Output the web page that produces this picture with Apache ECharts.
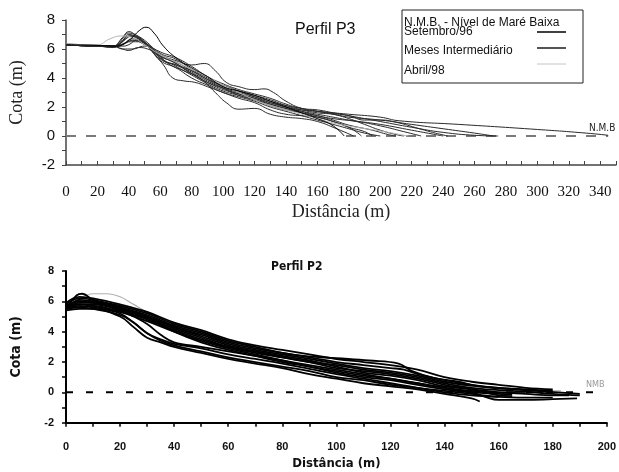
<!DOCTYPE html>
<html>
<head>
<meta charset="utf-8">
<script src="https://cdn.jsdelivr.net/npm/echarts@6/dist/echarts.min.js"></script>
<style>html,body{margin:0;padding:0;background:#fff}#c{width:619px;height:472px}</style>
</head>
<body>
<div id="c"></div>
<script>
// ---------- Perfil P3 (top) ----------
const p3_xTicks = [0,20,40,60,80,100,120,140,160,180,200,220,240,260,280,300,320,340];
const p3_yTicks = [-2,0,2,4,6,8];
const p3_setembro96 = [[0,6.3],[20,6.25],[32,6.2],[40,6.6],[47,7.3],[51,7.5],[56,7.1],[62,6.2],[70,5.4],[80,4.7],[90,4.1],[100,3.4],[110,3.1],[120,2.8],[130,2.4],[140,2.0],[150,1.6],[160,1.2],[170,0.7],[177,0]];
const p3_m1 = [[0,6.3],[20,6.2],[30,6.2],[38,6.7],[42,6.9],[48,6.6],[55,5.8],[62,4.9],[68,4.0],[75,3.8],[82,3.7],[90,3.4],[100,3.0],[110,2.6],[120,2.3],[130,1.8],[140,1.5],[150,1.4],[160,1.3],[170,1.0],[180,0.6],[188,0]];
const p3_m2 = [[0,6.3],[20,6.2],[30,6.15],[38,6.4],[42,6.6],[50,6.3],[60,5.6],[70,5.2],[80,4.9],[88,5.0],[95,4.5],[102,3.7],[110,3.4],[120,3.2],[126,3.25],[132,3.0],[140,2.4],[150,1.9],[160,1.7],[170,1.5],[180,1.2],[190,0.8],[200,0.4],[210,0.1],[215,0]];
const p3_m3 = [[0,6.3],[20,6.2],[30,6.2],[36,6.0],[42,6.0],[50,6.2],[58,5.7],[65,5.0],[75,4.5],[85,4.0],[95,3.0],[102,2.3],[110,1.85],[120,1.9],[130,1.5],[140,1.3],[150,1.2],[160,1.0],[170,0.6],[183,0]];
const p3_m4 = [[0,6.35],[20,6.25],[30,6.2],[35,6.6],[40,7.1],[45,6.9],[50,6.5],[60,5.6],[70,5.0],[80,4.4],[90,3.8],[100,3.3],[110,2.9],[120,2.6],[130,2.2],[140,1.9],[150,1.7],[160,1.5],[170,1.3],[180,1.1],[200,0.8],[220,0.4],[240,0]];
const p3_m5 = [[0,6.3],[20,6.2],[30,6.1],[35,6.4],[40,7.0],[45,6.8],[50,6.4],[60,5.4],[70,4.8],[80,4.2],[90,3.6],[100,3.1],[110,2.8],[120,2.5],[130,2.1],[140,1.8],[150,1.6],[160,1.3],[170,1.0],[180,0.6],[190,0.3],[195,0]];
const p3_m6 = [[0,6.3],[20,6.2],[30,6.2],[36,6.5],[41,6.9],[46,6.8],[52,6.3],[60,5.8],[70,5.4],[80,4.8],[90,4.1],[100,3.6],[110,3.2],[120,2.9],[130,2.6],[140,2.2],[150,1.9],[160,1.8],[170,1.6],[180,1.4],[200,1.0],[220,0.6],[240,0.25],[260,0.05],[275,0]];
const p3_m7 = [[0,6.3],[20,6.25],[30,6.2],[36,6.6],[40,6.9],[46,6.7],[52,6.3],[60,5.5],[70,5.1],[80,4.5],[90,3.9],[100,3.5],[110,3.1],[120,2.7],[130,2.3],[140,2.0],[150,1.8],[160,1.7],[180,1.5],[200,1.3],[212,1.05],[250,0.8],[300,0.45],[331,0.2],[345,0.05]];
const p3_m8 = [[0,6.3],[20,6.2],[30,6.15],[36,6.3],[40,6.5],[46,6.5],[52,6.2],[60,5.2],[70,4.7],[80,4.0],[90,3.5],[100,3.0],[110,2.7],[120,2.4],[130,2.0],[140,1.7],[150,1.4],[160,1.1],[170,0.8],[180,0.5],[190,0.2],[200,0]];
const p3_m9 = [[0,6.3],[20,6.2],[30,6.2],[36,6.8],[40,7.2],[44,7.0],[50,6.6],[60,5.7],[70,5.3],[80,4.6],[90,4.0],[100,3.4],[110,3.1],[120,2.8],[130,2.5],[140,2.1],[150,1.8],[160,1.6],[170,1.5],[180,1.3],[200,1.1],[220,0.8],[240,0.5],[260,0.2],[272,0]];
const p3_m10 = [[0,6.3],[20,6.2],[30,6.2],[37,6.4],[42,6.7],[48,6.5],[55,6.0],[62,5.2],[70,4.9],[80,4.3],[90,3.7],[100,3.2],[110,2.9],[120,2.6],[130,2.3],[140,2.0],[150,1.7],[160,1.4],[170,1.2],[185,1.0],[200,0.7],[215,0.3],[226,0]];
const p3_m11 = [[0,6.3],[20,6.2],[30,6.2],[36,6.0],[40,5.9],[46,6.1],[52,6.0],[60,5.5],[70,5.0],[80,4.3],[90,3.7],[100,3.3],[110,3.0],[120,2.7],[130,2.4],[140,2.1],[150,1.9],[160,1.7],[170,1.55],[180,1.4],[190,1.1],[200,1.1],[210,0.95],[225,0.5],[235,0.2],[243,0]];
const p3_m12 = [[0,6.3],[20,6.2],[30,6.2],[36,6.2],[40,6.3],[45,6.6],[50,6.4],[60,5.3],[70,4.9],[80,4.5],[90,3.9],[100,3.3],[110,2.8],[120,2.5],[130,2.2],[140,1.9],[150,1.6],[160,1.4],[170,1.1],[180,0.75],[195,0.4],[205,0.1],[210,0]];
const p3_abril98 = [[0,6.35],[10,6.3],[20,6.3],[28,6.7],[35,6.9],[42,6.8],[50,6.3],[60,5.6],[70,5.1],[80,4.6],[90,4.1],[100,3.5],[110,3.0],[120,2.5],[130,2.1],[140,1.8],[150,1.5],[160,1.2],[170,0.9],[185,0.6],[200,0.35],[215,0.05],[218,0]];
const p3_nmb = [[0,0],[345,0]];

// ---------- Perfil P2 (bottom) ----------
const p2_xTicks = [0,20,40,60,80,100,120,140,160,180,200];
const p2_yTicks = [-2,0,2,4,6,8];
const p2_l1 = [[0,5.6],[5,6.2],[10,6.5],[15,6.5],[20,6.3],[25,5.8],[30,5.3],[40,4.6],[50,4.0],[60,3.4],[70,2.9],[80,2.5],[90,2.1],[100,1.8],[110,1.5],[120,1.2],[130,0.9],[140,0.6],[150,0.4],[160,0.25],[170,0.15],[180,0.1],[183,0.1]];
const p2_l2 = [[0,5.5],[4,6.4],[6,6.5],[10,6.1],[15,5.9],[20,5.7],[30,5.2],[40,4.5],[50,4.0],[60,3.4],[70,3.0],[80,2.6],[88,2.4],[100,2.25],[112,2.1],[123,1.9],[128,1.4],[136,0.96],[145,0.7],[153,0.4],[170,0.15],[190,-0.1]];
const p2_l3 = [[0,5.7],[5,6.0],[10,6.0],[20,5.6],[30,5.0],[40,4.3],[50,3.8],[60,3.2],[70,2.8],[80,2.5],[90,2.2],[100,1.9],[110,1.6],[120,1.4],[130,1.1],[140,0.7],[150,0.45],[160,0.3],[170,0.15],[177,0.1]];
const p2_l4 = [[0,5.6],[5,5.9],[10,5.9],[20,5.4],[25,5.0],[30,4.5],[35,3.8],[40,3.3],[50,3.0],[60,2.7],[70,2.4],[80,2.1],[90,1.8],[100,1.5],[110,1.2],[120,0.9],[130,0.6],[140,0.3],[150,0.0],[155,-0.3],[160,-0.5],[170,-0.5],[180,-0.45],[189,-0.4]];
const p2_l5 = [[0,5.4],[5,5.5],[10,5.5],[20,5.0],[25,4.3],[30,3.6],[35,3.3],[40,3.0],[50,2.6],[60,2.2],[70,1.9],[80,1.6],[90,1.2],[100,0.9],[110,0.6],[120,0.4],[130,0.2],[140,-0.1],[150,-0.4],[153,-0.6]];
const p2_l6 = [[0,5.5],[5,5.7],[10,5.6],[20,5.2],[25,4.6],[30,3.9],[35,3.5],[40,3.2],[50,2.9],[60,2.5],[70,2.2],[80,1.9],[90,1.55],[100,1.2],[110,0.9],[120,0.6],[130,0.3],[140,0.1],[150,-0.1],[160,-0.3],[170,-0.35],[180,-0.35]];
const p2_l7 = [[0,5.5],[5,6.1],[10,6.0],[20,5.5],[30,4.9],[40,4.2],[50,3.6],[60,3.0],[70,2.6],[80,2.3],[90,2.0],[100,1.8],[110,1.5],[120,1.3],[130,1.0],[140,0.6],[150,0.3],[160,0.15],[170,0.05],[180,-0.1],[190,-0.2]];
const p2_l8 = [[0,5.8],[5,6.2],[10,6.1],[20,5.6],[30,5.1],[40,4.4],[50,3.9],[60,3.3],[70,2.9],[80,2.6],[90,2.3],[100,2.0],[110,1.8],[120,1.6],[125,1.5],[130,1.2],[140,0.8],[150,0.5],[160,0.3],[170,0.2],[180,0.1]];
const p2_l9 = [[0,5.6],[5,5.8],[10,5.7],[20,5.3],[30,4.7],[40,4.0],[50,3.4],[60,2.9],[70,2.5],[80,2.1],[90,1.7],[100,1.3],[110,1.0],[120,0.8],[130,0.5],[140,0.2],[150,0.0],[160,-0.1],[165,-0.15]];
const p2_l10 = [[0,5.5],[5,5.8],[10,5.8],[20,5.4],[30,4.8],[40,4.1],[50,3.5],[60,3.0],[70,2.7],[80,2.4],[90,2.1],[100,1.7],[110,1.3],[120,1.1],[130,0.8],[140,0.4],[150,0.2],[160,0.0],[170,-0.1],[180,-0.2],[186,-0.2]];
const p2_l11 = [[0,5.9],[5,6.3],[10,6.2],[20,5.8],[30,5.3],[40,4.6],[50,4.1],[60,3.5],[70,3.1],[80,2.8],[90,2.5],[100,2.2],[110,2.0],[120,1.8],[130,1.5],[140,1.0],[150,0.7],[160,0.5],[170,0.3],[180,0.2]];
const p2_l12 = [[0,5.7],[5,6.0],[10,5.9],[20,5.5],[30,5.0],[40,4.3],[50,3.7],[60,3.1],[70,2.7],[80,2.3],[90,2.0],[100,1.6],[110,1.4],[120,1.2],[130,0.9],[140,0.5],[150,0.2],[155,0.0],[160,-0.2],[165,-0.25]];
const p2_l13 = [[0,5.6],[5,5.6],[10,5.7],[20,5.3],[30,4.9],[40,4.0],[50,3.3],[60,2.8],[70,2.4],[80,2.0],[90,1.7],[100,1.4],[110,1.1],[120,0.9],[130,0.6],[140,0.3],[150,0.1],[160,0.0],[170,-0.05]];
const p2_l14 = [[0,5.5],[5,5.6],[10,5.5],[20,5.1],[25,4.6],[30,3.9],[35,3.4],[40,3.1],[50,2.7],[60,2.3],[70,2.0],[80,1.7],[90,1.4],[100,1.0],[110,0.8],[120,0.5],[130,0.3],[140,0.0],[150,-0.2],[160,-0.3]];
const p2_nmb = [[0,0],[197,0]];

// ---------- build ----------
const serif = '"Liberation Serif","DejaVu Serif",serif';
const sans = '"Liberation Sans",Arial,sans-serif';
const narrow = '"Liberation Sans Narrow","DejaVu Sans Condensed","Liberation Sans",sans-serif';

const p3Inter = [p3_m1,p3_m2,p3_m3,p3_m4,p3_m5,p3_m6,p3_m7,p3_m8,p3_m9,p3_m10,p3_m11,p3_m12];
const p2All = [p2_l1,p2_l2,p2_l3,p2_l4,p2_l5,p2_l6,p2_l7,p2_l8,p2_l9,p2_l10,p2_l11,p2_l12,p2_l13,p2_l14];

function line(data, xi, color, width, smooth) {
  return {type:'line', xAxisIndex:xi, yAxisIndex:xi, data:data, symbol:'none', smooth:smooth,
    lineStyle:{color:color, width:width}, silent:true, z:3};
}
const series = [];
p3Inter.forEach(d => series.push(line(d,0,'#2a2a2a',1,0.5)));
series.push(line(p3_abril98,0,'#b5b5b5',1,0.5));
series.push(line(p3_setembro96,0,'#000',1,0.5));
series.push({type:'line', xAxisIndex:0, yAxisIndex:0, data:p3_nmb, symbol:'none',
  lineStyle:{color:'#7a7a7a', width:2, type:[10,10]}, z:2});
p2All.forEach((d,i) => series.push(line(d,1, i===0 ? '#b0b0b0' : '#000', i===0 ? 1.2 : 1.8, 0.4)));
series.push({type:'line', xAxisIndex:1, yAxisIndex:1, data:p2_nmb, symbol:'none',
  lineStyle:{color:'#000', width:2, type:[7,13]}, z:2});

const option = {
  animation:false,
  backgroundColor:'#fff',
  title:[
    {text:'Perfil P3', left:290, top:17, textStyle:{fontFamily:sans, fontSize:16, fontWeight:'normal', color:'#111'}},
    {text:'Perfil P2', left:266, top:256, textStyle:{fontFamily:narrow, fontSize:12, fontWeight:'bold', color:'#111'}}
  ],
  grid:[
    {left:66, top:20, width:551.6, height:145},
    {left:66, top:271, width:545.7, height:151.7}
  ],
  xAxis:[
    {type:'value', gridIndex:0, min:0, max:350, interval:10,
      name:'Distância (m)', nameLocation:'middle', nameGap:38,
      nameTextStyle:{fontFamily:serif, fontSize:18, color:'#222'},
      axisLine:{onZero:false, lineStyle:{color:'#444', width:1.5}},
      axisTick:{show:true, inside:true, length:4, lineStyle:{color:'#444'}},
      axisLabel:{margin:20, fontFamily:serif, fontSize:15, color:'#111',
        formatter:v => p3_xTicks.indexOf(v) >= 0 ? String(v) : ''},
      splitLine:{show:false}},
    {type:'value', gridIndex:1, min:0, max:200, interval:10,
      name:'Distância (m)', nameLocation:'middle', nameGap:34,
      nameTextStyle:{fontFamily:narrow, fontSize:13, fontWeight:'bold', color:'#111'},
      axisLine:{onZero:false, lineStyle:{color:'#000', width:2}},
      axisTick:{show:true, inside:false, length:4, lineStyle:{color:'#000', width:1.5}},
      axisLabel:{margin:19, fontFamily:sans, fontSize:11, fontWeight:'bold', color:'#111',
        formatter:v => p2_xTicks.indexOf(v) >= 0 ? String(v) : ''},
      splitLine:{show:false}}
  ],
  yAxis:[
    {type:'value', gridIndex:0, min:-2, max:8, interval:2,
      name:'Cota (m)', nameLocation:'middle', nameGap:40, nameRotate:90,
      nameTextStyle:{fontFamily:serif, fontSize:18, color:'#222'},
      axisLine:{show:true, onZero:false, lineStyle:{color:'#444', width:1.5}},
      axisTick:{show:true, length:4, lineStyle:{color:'#444'}},
      minorTick:{show:true, splitNumber:2, length:4, lineStyle:{color:'#444'}},
      axisLabel:{margin:11, fontFamily:sans, fontSize:15, color:'#111',
        formatter:v => p3_yTicks.indexOf(v) >= 0 ? String(v) : ''},
      splitLine:{show:false}},
    {type:'value', gridIndex:1, min:-2, max:8, interval:2,
      name:'Cota (m)', nameLocation:'middle', nameGap:43, nameRotate:90,
      nameTextStyle:{fontFamily:narrow, fontSize:14, fontWeight:'bold', color:'#111'},
      axisLine:{show:true, onZero:false, lineStyle:{color:'#000', width:2}},
      axisTick:{show:true, length:4, lineStyle:{color:'#000', width:1.5}},
      minorTick:{show:true, splitNumber:2, length:4, lineStyle:{color:'#000', width:1.5}},
      axisLabel:{margin:12, fontFamily:sans, fontSize:11, fontWeight:'bold', color:'#111',
        formatter:v => p2_yTicks.indexOf(v) >= 0 ? String(v) : ''},
      splitLine:{show:false}}
  ],
  graphic:[
    {type:'rect', shape:{x:402, y:10, width:181, height:73}, style:{fill:'#fff', stroke:'#222', lineWidth:1}, z:10},
    {type:'text', left:404, top:17, style:{text:'N.M.B. - Nível de Maré Baixa', font:'12px '+sans, fill:'#111'}, z:11},
    {type:'text', left:404, top:26, style:{text:'Setembro/96', font:'12px '+sans, fill:'#111'}, z:11},
    {type:'text', left:404, top:45, style:{text:'Meses Intermediário', font:'12px '+sans, fill:'#111'}, z:11},
    {type:'text', left:404, top:65, style:{text:'Abril/98', font:'12px '+sans, fill:'#111'}, z:11},
    {type:'line', shape:{x1:537, y1:32, x2:566, y2:32}, style:{stroke:'#000', lineWidth:1.5}, z:11},
    {type:'line', shape:{x1:537, y1:48, x2:566, y2:48}, style:{stroke:'#555', lineWidth:2}, z:11},
    {type:'line', shape:{x1:537, y1:64, x2:566, y2:64}, style:{stroke:'#c4c4c4', lineWidth:1}, z:11},
    {type:'text', left:589, top:123, style:{text:'N.M.B', font:'10px '+narrow, fill:'#222'}, z:11},
    {type:'text', left:586, top:380, style:{text:'NMB', font:'9px '+narrow, fill:'#999'}, z:11}
  ],
  series:series
};
const chart = echarts.init(document.getElementById('c'), null, {renderer:'canvas'});
chart.setOption(option);
</script>
</body>
</html>
